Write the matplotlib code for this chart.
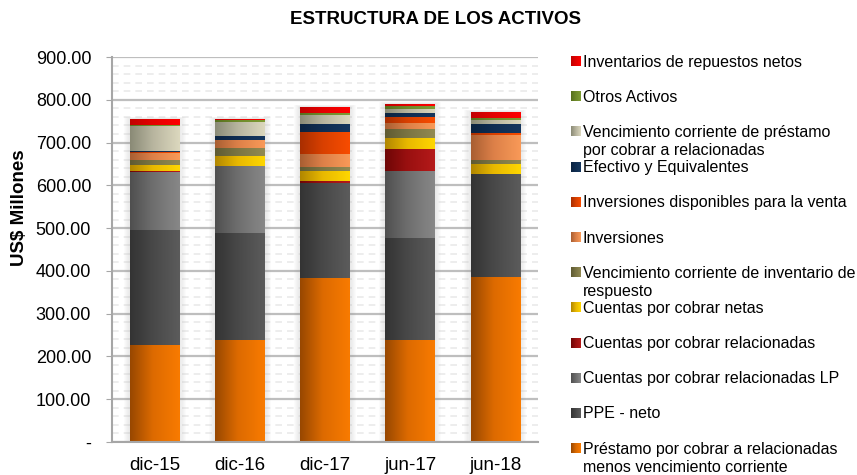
import numpy as np
import matplotlib
matplotlib.use('Agg')
import matplotlib.pyplot as plt
from matplotlib.colors import LinearSegmentedColormap
from matplotlib.ticker import MultipleLocator, FuncFormatter

plt.rcParams['font.family'] = ['Liberation Sans', 'DejaVu Sans']

periodos = ['dic-15', 'dic-16', 'dic-17', 'jun-17', 'jun-18']

# series de abajo hacia arriba (orden de apilado)
series = [
    'Préstamo por cobrar a relacionadas\nmenos vencimiento corriente',
    'PPE - neto',
    'Cuentas por cobrar relacionadas LP',
    'Cuentas por cobrar relacionadas',
    'Cuentas por cobrar netas',
    'Vencimiento corriente de inventario de\nrespuesto',
    'Inversiones',
    'Inversiones disponibles para la venta',
    'Efectivo y Equivalentes',
    'Vencimiento corriente de préstamo\npor cobrar a relacionadas',
    'Otros Activos',
    'Inventarios de repuestos netos',
]

prestamo_lp   = [227, 239, 384, 239, 386]
ppe_neto      = [269, 250, 222, 238, 241]
cxc_rel_lp    = [136, 157, 0, 157, 0]
cxc_rel       = [2, 0, 5, 52, 0]
cxc_netas     = [14, 23, 23, 25, 23]
venc_inv      = [12, 19, 9, 21, 10]
inversiones   = [15, 17, 31, 14, 58]
inv_disp      = [2, 2, 51, 14, 5]
efectivo      = [4, 9, 19, 10, 21]
venc_prestamo = [58, 33, 20, 9, 9]
otros         = [3, 3, 6, 7, 5]
inventarios   = [14, 4, 14, 5, 14]

valores = [prestamo_lp, ppe_neto, cxc_rel_lp, cxc_rel, cxc_netas, venc_inv,
           inversiones, inv_disp, efectivo, venc_prestamo, otros, inventarios]

# gradiente horizontal: oscuro -> claro
colores = [
    ('#974700', '#DC6A00', '#F97B00'),
    ('#333333', '#484848', '#5C5C5C'),
    ('#4F4F4F', '#6E6E6E', '#888888'),
    ('#6E0606', '#9A1010', '#B51A1A'),
    ('#B08600', '#E8B800', '#FFD700'),
    ('#5E5A32', '#7A7443', '#928A52'),
    ('#A85E32', '#DC8048', '#F99A58'),
    ('#A82E00', '#D84000', '#F84C00'),
    ('#0B2340', '#0F2D52', '#16375E'),
    ('#8A8A76', '#B7B49E', '#DCD8BE'),
    ('#566F1E', '#6E8A2A', '#7E9C34'),
    ('#C00000', '#E40000', '#FF0000'),
]

W, H = 857, 475
fig = plt.figure(figsize=(W / 100, H / 100), dpi=100)
ax = fig.add_axes([112 / W, 1 - 442 / H, 426 / W, 385 / H])

x = np.arange(len(periodos))
ancho = 0.58
gradiente = np.linspace(0, 1, 256).reshape(1, -1)

# sombra suave detras de las barras
totales = np.sum(valores, axis=0)
for k in range(1, 7):
    ax.bar(x, totales + 0.8 * k, width=ancho + 0.025 * k, color='#9A9A9A',
           alpha=0.035, zorder=1.5, linewidth=0)

base = np.zeros(len(periodos))
for nombre, vals, cols in zip(series, valores, colores):
    cmap = LinearSegmentedColormap.from_list(nombre, [(0, cols[0]), (0.45, cols[1]), (1, cols[2])])
    barras = ax.bar(x, vals, width=ancho, bottom=base, color=cols[1],
                    linewidth=0, zorder=2)
    for b in barras:
        if b.get_height() <= 0:
            continue
        x0, y0 = b.get_x(), b.get_y()
        im = ax.imshow(gradiente, cmap=cmap, aspect='auto', zorder=2.1,
                       extent=[x0, x0 + b.get_width(), y0, y0 + b.get_height()])
        im.set_clip_path(b)
    base += np.array(vals)

ax.set_xlim(-0.5, len(periodos) - 0.5)
ax.set_ylim(0, 900)
ax.set_xticks(x)
ax.set_xticklabels(periodos)
ax.yaxis.set_major_locator(MultipleLocator(100))
ax.yaxis.set_minor_locator(MultipleLocator(20))
ax.yaxis.set_major_formatter(FuncFormatter(lambda v, p: '-' if v == 0 else f'{v:.2f}'))

ax.grid(axis='y', which='major', color='#BEBEBE', linewidth=1.6, zorder=0)
ax.grid(axis='y', which='minor', color='#EAEAEA', linewidth=1.2,
        linestyle=(0, (4, 3)), zorder=0)
ax.set_axisbelow(True)

for s in ['top', 'right']:
    ax.spines[s].set_visible(False)
for s in ['left', 'bottom']:
    ax.spines[s].set_color('#A6A6A6')
    ax.spines[s].set_linewidth(1.5)

ax.tick_params(axis='y', which='major', length=4, color='#A6A6A6', pad=11,
               labelsize=13, labelcolor='black')
ax.tick_params(axis='y', which='minor', length=0)
ax.tick_params(axis='x', length=0, pad=11, labelsize=13.5, labelcolor='black')

fig.text(435 / W, 1 - 19 / H, 'ESTRUCTURA DE LOS ACTIVOS', ha='center',
         va='center', fontsize=13.5, fontweight='bold')
fig.text(20 / W, 1 - 208 / H, 'US$ Millones', rotation=90, ha='center',
         va='center', fontsize=13.5, fontweight='bold')

# leyenda manual, de arriba hacia abajo
for i, (nombre, cols) in enumerate(zip(series[::-1], colores[::-1])):
    yc = 61 + 35.2 * i
    sq = fig.add_axes([571 / W, 1 - (yc + 5) / H, 10 / W, 10 / H])
    sq.imshow(gradiente, cmap=LinearSegmentedColormap.from_list(
        'l%d' % i, [cols[0], cols[1], cols[2]]), aspect='auto')
    sq.axis('off')
    for k, linea in enumerate(nombre.split('\n')):
        fig.text(583 / W, 1 - (yc + 5.5 + 18 * k) / H, linea, ha='left',
                 va='baseline', fontsize=11.5)

fig.savefig('out.png', dpi=100)
